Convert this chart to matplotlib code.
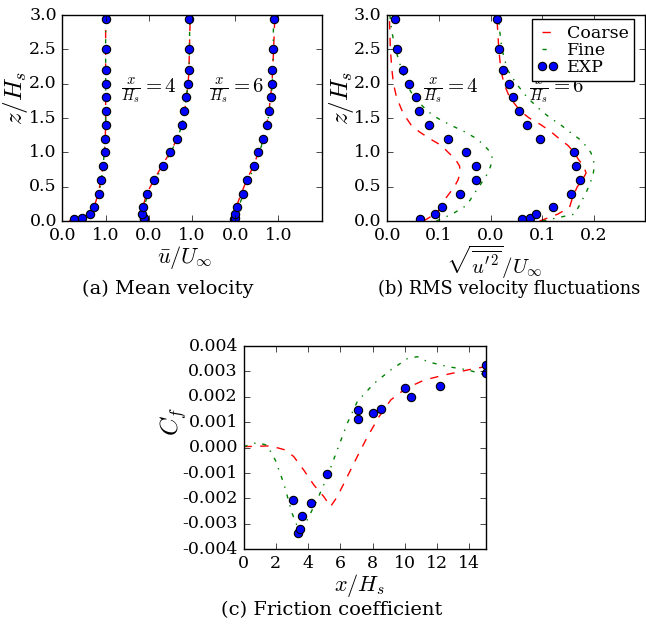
import numpy as np
import matplotlib
matplotlib.use("Agg")
import matplotlib.pyplot as plt

plt.style.use("classic")
plt.rcParams["font.family"] = "serif"
plt.rcParams["font.serif"] = ["DejaVu Serif"]
plt.rcParams["mathtext.fontset"] = "cm"
plt.rcParams["axes.unicode_minus"] = False
plt.rcParams["figure.facecolor"] = "white"
plt.rcParams["savefig.facecolor"] = "white"
plt.rcParams["xtick.labelsize"] = 12.5
plt.rcParams["ytick.labelsize"] = 12.5

# (a) mean velocity, EXP
z_exp = [0.03, 0.05, 0.1, 0.2, 0.4, 0.6, 0.8, 1.0, 1.2, 1.4, 1.6, 1.8, 2.0, 2.2, 2.5, 2.95]
u_exp_in = [0.26, 0.46, 0.63, 0.74, 0.84, 0.90, 0.95, 0.98, 0.99, 1.0, 1.0, 1.0, 1.0, 1.0, 1.0, 1.0]
u_exp_x4 = [-0.12, -0.11, -0.15, -0.14, -0.05, 0.13, 0.32, 0.50, 0.65, 0.77, 0.82, 0.86, 0.91, 0.92, 0.94, 0.94]
u_exp_x6 = [-0.02, -0.01, 0.0, 0.04, 0.17, 0.28, 0.44, 0.54, 0.65, 0.73, 0.78, 0.82, 0.85, 0.86, 0.88, 0.89]

# (a) mean velocity, simulations
z_sim_a = [0.0, 0.03, 0.05, 0.1, 0.2, 0.4, 0.6, 0.8, 1.0, 1.2, 1.4, 1.6, 1.8, 2.0, 2.2, 2.5, 3.0]
u_coarse_in = [0.15, 0.30, 0.45, 0.62, 0.73, 0.83, 0.89, 0.94, 0.97, 0.99, 1.0, 1.0, 1.0, 1.0, 1.0, 1.0, 1.0]
u_fine_in = [0.18, 0.33, 0.47, 0.64, 0.75, 0.85, 0.90, 0.94, 0.97, 0.99, 1.0, 1.0, 1.0, 1.0, 1.0, 1.0, 1.0]
u_coarse_x4 = [-0.12, -0.13, -0.14, -0.15, -0.14, -0.05, 0.12, 0.30, 0.49, 0.66, 0.77, 0.83, 0.87, 0.91, 0.93, 0.94, 0.96]
u_fine_x4 = [-0.10, -0.11, -0.12, -0.13, -0.11, -0.02, 0.15, 0.33, 0.51, 0.66, 0.77, 0.83, 0.87, 0.91, 0.93, 0.94, 0.95]
u_coarse_x6 = [-0.10, -0.08, -0.06, -0.03, 0.02, 0.14, 0.27, 0.42, 0.54, 0.65, 0.73, 0.78, 0.82, 0.85, 0.87, 0.89, 0.92]
u_fine_x6 = [-0.02, -0.01, 0.0, 0.02, 0.07, 0.20, 0.31, 0.45, 0.56, 0.66, 0.74, 0.79, 0.83, 0.86, 0.87, 0.88, 0.89]

# (b) rms fluctuations, EXP
z_exp_x4 = [0.03, 0.1, 0.2, 0.4, 0.6, 0.8, 1.0, 1.2, 1.4, 1.6, 1.8, 2.0, 2.2, 2.5, 2.95]
rms_exp_x4 = [0.063, 0.092, 0.105, 0.141, 0.172, 0.172, 0.153, 0.117, 0.081, 0.062, 0.055, 0.042, 0.031, 0.018, 0.014]
z_exp_x6 = [0.03, 0.05, 0.1, 0.2, 0.4, 0.6, 0.8, 1.0, 1.2, 1.4, 1.6, 1.8, 2.0, 2.2, 2.5, 2.95]
rms_exp_x6 = [0.061, 0.077, 0.088, 0.121, 0.156, 0.174, 0.166, 0.161, 0.095, 0.071, 0.056, 0.043, 0.035, 0.024, 0.016, 0.012]

# (b) rms fluctuations, simulations
z_sim_b = [0.0, 0.1, 0.2, 0.3, 0.4, 0.5, 0.6, 0.7, 0.8, 0.9, 1.0, 1.1, 1.2, 1.3, 1.4, 1.5, 1.6, 1.8, 2.0, 2.2, 2.5, 2.75, 3.0]
rms_coarse_x4 = [0.070, 0.092, 0.105, 0.110, 0.120, 0.130, 0.137, 0.141, 0.140, 0.132, 0.118, 0.105, 0.082, 0.062, 0.046, 0.037, 0.029, 0.018, 0.012, 0.009, 0.006, 0.005, 0.004]
rms_fine_x4 = [0.095, 0.125, 0.148, 0.160, 0.168, 0.178, 0.186, 0.195, 0.200, 0.204, 0.200, 0.188, 0.173, 0.150, 0.122, 0.097, 0.078, 0.052, 0.037, 0.028, 0.016, 0.009, 0.005]
rms_coarse_x6 = [0.095, 0.130, 0.153, 0.157, 0.162, 0.168, 0.178, 0.185, 0.180, 0.170, 0.162, 0.150, 0.133, 0.117, 0.098, 0.075, 0.058, 0.037, 0.026, 0.020, 0.016, 0.014, 0.012]
rms_fine_x6 = [0.100, 0.162, 0.170, 0.177, 0.184, 0.190, 0.195, 0.199, 0.201, 0.199, 0.194, 0.184, 0.171, 0.153, 0.136, 0.116, 0.099, 0.071, 0.050, 0.033, 0.022, 0.018, 0.015]

# (c) friction coefficient
x_exp_c = [3.05, 3.38, 3.53, 3.63, 4.21, 5.19, 7.12, 7.12, 8.03, 8.53, 10.02, 10.35, 12.2, 15.0, 15.0]
cf_exp = [-2.07e-3, -3.37e-3, -3.21e-3, -2.69e-3, -2.18e-3, -1.02e-3, 1.48e-3, 1.13e-3, 1.35e-3, 1.52e-3, 2.36e-3, 1.98e-3, 2.44e-3, 3.25e-3, 2.92e-3]
x_coarse_c = [0.0, 1.66, 2.59, 3.11, 3.73, 4.36, 4.98, 5.39, 5.81, 6.43, 7.05, 7.68, 8.4, 9.13, 10.06, 11.2, 12.45, 13.9, 15.0]
cf_coarse = [0.04e-3, 0.07e-3, -0.09e-3, -0.35e-3, -0.88e-3, -1.47e-3, -1.93e-3, -2.32e-3, -1.93e-3, -1.14e-3, -0.35e-3, 0.43e-3, 1.22e-3, 1.88e-3, 2.33e-3, 2.66e-3, 2.86e-3, 3.06e-3, 3.19e-3]
x_fine_c = [0.0, 0.83, 1.45, 1.97, 2.49, 3.01, 3.42, 3.94, 4.56, 5.19, 5.81, 6.43, 7.05, 8.09, 9.13, 10.17, 10.79, 11.41, 12.66, 13.9, 15.0]
cf_fine = [0.04e-3, 0.2e-3, 0.1e-3, -0.49e-3, -1.4e-3, -2.58e-3, -3.24e-3, -2.85e-3, -2.06e-3, -1.14e-3, -0.09e-3, 0.96e-3, 1.81e-3, 2.53e-3, 3.06e-3, 3.51e-3, 3.58e-3, 3.38e-3, 3.19e-3, 3.06e-3, 2.86e-3]

coarse_style = dict(color="red", linestyle="--", linewidth=1.0)
fine_style = dict(color="green", linestyle="-.", linewidth=1.0)
exp_style = dict(linestyle="none", marker="o", markersize=6, markerfacecolor="blue",
                 markeredgecolor="black", markeredgewidth=0.8)

fig = plt.figure(figsize=(6.46, 6.28), dpi=100)
ax_a = fig.add_axes([0.0967, 0.648, 0.401, 0.328])
ax_b = fig.add_axes([0.5995, 0.648, 0.3997, 0.328])
ax_c = fig.add_axes([0.377, 0.1253, 0.3746, 0.3237])

# (a)
profiles_a = [(u_coarse_in, u_fine_in, u_exp_in),
              (u_coarse_x4, u_fine_x4, u_exp_x4),
              (u_coarse_x6, u_fine_x6, u_exp_x6)]
for i, (uc, uf, ue) in enumerate(profiles_a):
    ax_a.plot(np.array(uc) + 2 * i, z_sim_a, **coarse_style)
    ax_a.plot(np.array(uf) + 2 * i, z_sim_a, **fine_style)
    ax_a.plot(np.array(ue) + 2 * i, z_exp, **exp_style)
ax_a.set_xlim(0, 6)
ax_a.set_ylim(0, 3)
ax_a.set_xticks(range(6))
ax_a.set_xticklabels(["0.0", "1.0", "0.0", "1.0", "0.0", "1.0"])
ax_a.set_yticks(np.arange(0, 3.01, 0.5))
ax_a.set_yticklabels(["%.1f" % v for v in np.arange(0, 3.01, 0.5)])
ax_a.set_xlabel(r"$\bar{u}/U_\infty$", fontsize=16)
ax_a.set_ylabel(r"$z/H_s$", fontsize=18)
ax_a.xaxis.set_label_coords(0.473, -0.11)
ax_a.yaxis.set_label_coords(-0.125, 0.6)
ax_a.text(1.35, 1.9, r"$\frac{x}{H_s}=4$", fontsize=15, va="center")
ax_a.text(3.4, 1.9, r"$\frac{x}{H_s}=6$", fontsize=15, va="center")

# (b)
profiles_b = [(rms_coarse_x4, rms_fine_x4, z_exp_x4, rms_exp_x4),
              (rms_coarse_x6, rms_fine_x6, z_exp_x6, rms_exp_x6)]
for i, (rc, rf, ze, re) in enumerate(profiles_b):
    lc, = ax_b.plot(np.array(rc) * 10 + 2 * i, z_sim_b, **coarse_style)
    lf, = ax_b.plot(np.array(rf) * 10 + 2 * i, z_sim_b, **fine_style)
    le, = ax_b.plot(np.array(re) * 10 + 2 * i, ze, **exp_style)
ax_b.set_xlim(0, 5)
ax_b.set_ylim(0, 3)
ax_b.set_xticks(range(5))
ax_b.set_xticklabels(["0.0", "0.1", "0.0", "0.1", "0.2"])
ax_b.set_yticks(np.arange(0, 3.01, 0.5))
ax_b.set_yticklabels(["%.1f" % v for v in np.arange(0, 3.01, 0.5)])
ax_b.set_xlabel(r"$\sqrt{\overline{u'^2}}/U_\infty$", fontsize=15)
ax_b.set_ylabel(r"$z/H_s$", fontsize=18)
ax_b.xaxis.set_label_coords(0.413, -0.11)
ax_b.yaxis.set_label_coords(-0.12, 0.6)
ax_b.text(0.70, 1.9, r"$\frac{x}{H_s}=4$", fontsize=15, va="center")
ax_b.text(2.74, 1.9, r"$\frac{x}{H_s}=6$", fontsize=15, va="center")
ax_b.legend([lc, lf, le], ["Coarse", "Fine", "EXP"], loc="upper right",
            bbox_to_anchor=(0.955, 0.979), borderaxespad=0, fontsize=12.5,
            handlelength=1.2, handletextpad=0.5, labelspacing=0.0,
            borderpad=0.3, numpoints=2, fancybox=False, framealpha=1)

# (c)
ax_c.plot(x_coarse_c, cf_coarse, **coarse_style)
ax_c.plot(x_fine_c, cf_fine, **fine_style)
ax_c.plot(x_exp_c, cf_exp, **exp_style)
ax_c.set_xlim(0, 15)
ax_c.set_ylim(-0.004, 0.004)
ax_c.set_xticks(range(0, 15, 2))
cf_ticks = np.arange(-0.004, 0.00401, 0.001)
ax_c.set_yticks(cf_ticks)
ax_c.set_yticklabels(["%.3f" % v if abs(v) > 1e-9 else "0.000" for v in cf_ticks])
ax_c.set_xlabel(r"$x/H_s$", fontsize=16)
ax_c.set_ylabel(r"$C_f$", fontsize=18)
ax_c.xaxis.set_label_coords(0.479, -0.11)
ax_c.yaxis.set_label_coords(-0.225, 0.63)

fig.text(168 / 646, 1 - 289 / 628, "(a) Mean velocity", ha="center", va="center", fontsize=14)
fig.text(509 / 646, 1 - 289 / 628, "(b) RMS velocity fluctuations", ha="center", va="center", fontsize=12.9)
fig.text(332 / 646, 1 - 610 / 628, "(c) Friction coefficient", ha="center", va="center", fontsize=14)

fig.savefig("out.png", dpi=100)
